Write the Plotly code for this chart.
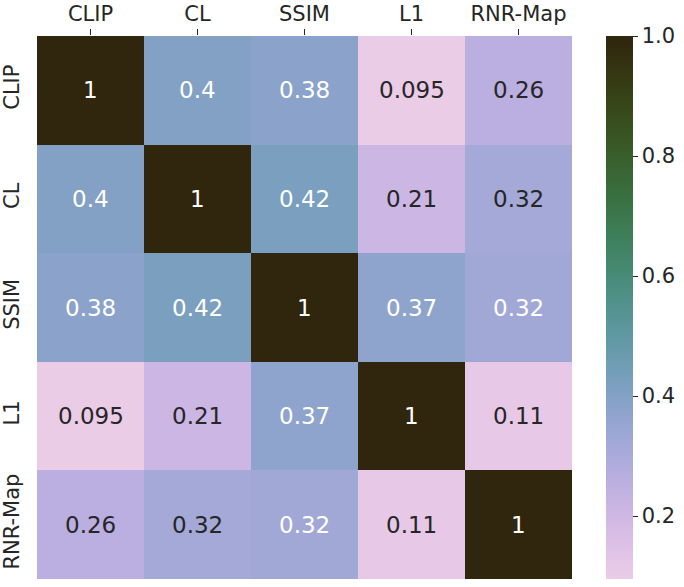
import math
import plotly.graph_objects as go

# metric names (rows / columns of the correlation matrix)
labels = ["CLIP", "CL", "SSIM", "L1", "RNR-Map"]

# correlation values, one list per row
row_clip = [1.0, 0.4, 0.38, 0.095, 0.26]
row_cl = [0.4, 1.0, 0.42, 0.21, 0.316]
row_ssim = [0.38, 0.42, 1.0, 0.37, 0.324]
row_l1 = [0.095, 0.21, 0.37, 1.0, 0.11]
row_rnr = [0.26, 0.316, 0.324, 0.11, 1.0]
z = [row_clip, row_cl, row_ssim, row_l1, row_rnr]

cbar_ticks = [0.2, 0.4, 0.6, 0.8, 1.0]

zmin = min(min(r) for r in z)
zmax = max(max(r) for r in z)

# annotations above this value are drawn in white
white_above = 0.32


# cubehelix colormap (seaborn cubehelix_palette style, light -> dark)
def helix(x, start=0.9, rot=1.0, hue=0.8, gamma=1.0):
    phi = 2 * math.pi * (start / 3 + rot * x)
    xg = x ** gamma
    a = hue * xg * (1 - xg) / 2
    c, s = math.cos(phi), math.sin(phi)
    r = xg + a * (-0.14861 * c + 1.78277 * s)
    g = xg + a * (-0.29227 * c - 0.90649 * s)
    b = xg + a * (1.97294 * c)
    return [min(max(v, 0.0), 1.0) for v in (r, g, b)]


light, dark, n = 0.85, 0.15, 256
cscale = []
for i in range(n):
    r, g, b = helix(light - (light - dark) * i / (n - 1))
    cscale.append([i / (n - 1), "rgb(%d,%d,%d)" % (r * 255, g * 255, b * 255)])

fig = go.Figure(go.Heatmap(
    z=z, x=labels, y=labels,
    zmin=zmin, zmax=zmax,
    colorscale=cscale,
    xgap=0, ygap=0,
    hoverinfo="skip",
    colorbar=dict(
        thickness=27, len=1, lenmode="fraction",
        x=1.063, xanchor="left", y=0.5, yanchor="middle",
        xpad=0, ypad=0,
        outlinewidth=0,
        tickvals=cbar_ticks, ticktext=["%.1f" % t for t in cbar_ticks],
        ticks="outside", ticklen=5, tickwidth=1.2, tickcolor="#262626",
        tickfont=dict(family="DejaVu Sans", size=21, color="#262626"),
    ),
))

for i, row in enumerate(z):
    for j, v in enumerate(row):
        txt_col = "white" if v > white_above else "#262626"
        fig.add_annotation(
            x=labels[j], y=labels[i], text=format(v, ".2g"),
            showarrow=False,
            font=dict(family="DejaVu Sans", size=23, color=txt_col),
        )

fig.update_xaxes(
    side="top", showgrid=False, zeroline=False, showline=False,
    automargin=False,
    ticks="outside", ticklen=6, tickwidth=1.2, tickcolor="#262626",
    tickfont=dict(family="DejaVu Sans", size=21, color="#262626"),
)
fig.update_yaxes(
    autorange="reversed", showgrid=False, zeroline=False, showline=False,
    automargin=False,
    ticks="outside", ticklen=9, tickcolor="rgba(0,0,0,0)",
    tickangle=-90,
    tickfont=dict(family="DejaVu Sans", size=21, color="#262626"),
)

fig.update_layout(
    width=684, height=587,
    margin=dict(l=37, r=112, t=36, b=8, autoexpand=False),
    paper_bgcolor="white", plot_bgcolor="white",
)

# drop the default page margin so the figure sits at the window corner
fig.write_html("out.html", config={"displayModeBar": False},
               post_script="document.body.style.margin='0';")
